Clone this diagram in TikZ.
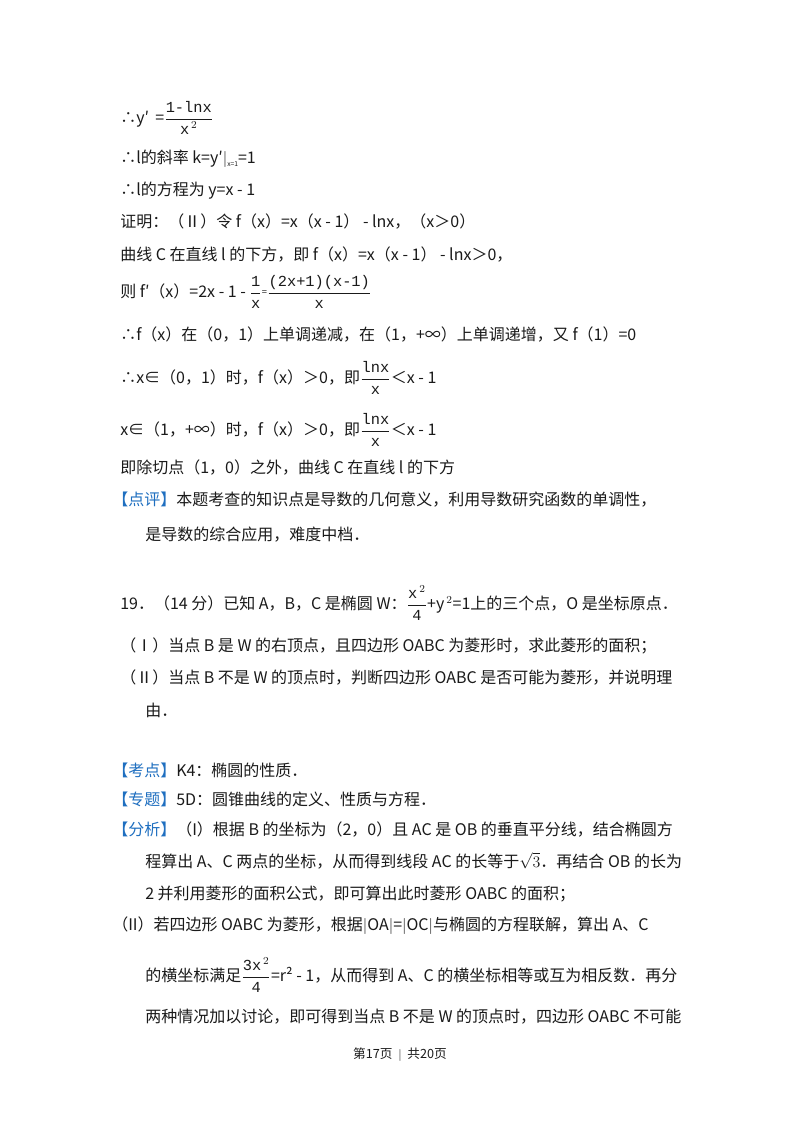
\documentclass[tikz,border=0pt]{standalone}
\usepackage{amsmath}
\usepackage{fontspec}
\setmainfont{Noto Sans CJK SC}
\newfontfamily\monof{Liberation Mono}
\definecolor{txt}{HTML}{1A1A1A}
\definecolor{tag}{HTML}{1F6FC0}
\newcommand{\fr}[2]{$\dfrac{\mbox{\fontsize{11.5}{13}\monof #1}}{\mbox{\fontsize{11.5}{13}\monof #2}}$}
\newcommand{\tg}[1]{\textcolor{tag}{【#1】}}
\begin{document}
\begin{tikzpicture}[x=0.75pt,y=-0.75pt,
  ln/.style={anchor=west,inner sep=0pt,text=txt,font=\fontsize{12}{14}\selectfont}]
\useasboundingbox[fill=white] (0,0) rectangle (800,1132);
\node[ln] (l1) at (120,118) {∴y′ \,=\fr{1-lnx}{x$^{\,2}$}};
\node[ln] (l2) at (120,159) {∴l的斜率 k=y′$|$\raisebox{-0.3ex}{\tiny x=1}=1};
\node[ln] (l3) at (120,191) {∴l的方程为 y=x - 1};
\node[ln] (l4) at (120,222) {证明：（Ⅱ）令 f（x）=x（x - 1） - lnx，（x＞0）};
\node[ln] (l5) at (120,255) {曲线 C 在直线 l 的下方，即 f（x）=x（x - 1） - lnx＞0，};
\node[ln] (l6) at (120,292) {则 f′（x）=2x - 1 - \fr{1}{x}\raisebox{0.2ex}{\scriptsize =}\fr{(2x+1)(x-1)}{x}};
\node[ln] (l7) at (120,335) {∴f（x）在（0，1）上单调递减，在（1，+∞）上单调递增，又 f（1）=0};
\node[ln] (l8) at (120,378) {∴x∈（0，1）时，f（x）＞0，即\fr{lnx}{x}＜x - 1};
\node[ln] (l9) at (120,430) {x∈（1，+∞）时，f（x）＞0，即\fr{lnx}{x}＜x - 1};
\node[ln] (l10) at (120,468) {即除切点（1，0）之外，曲线 C 在直线 l 的下方};
\node[ln] (l11) at (112,500) {\tg{点评}本题考查的知识点是导数的几何意义，利用导数研究函数的单调性，};
\node[ln] (l12) at (145,535) {是导数的综合应用，难度中档．};
\node[ln] (l13) at (120,603) {19．（14 分）已知 A，B，C 是椭圆 W：\fr{x$^{\,2}$}{4}+y$^{\,2}$=1上的三个点，O 是坐标原点．};
\node[ln] (l14) at (120,646) {（Ⅰ）当点 B 是 W 的右顶点，且四边形 OABC 为菱形时，求此菱形的面积；};
\node[ln] (l15) at (120,677) {（Ⅱ）当点 B 不是 W 的顶点时，判断四边形 OABC 是否可能为菱形，并说明理};
\node[ln] (l16) at (145,710) {由．};
\node[ln] (l17) at (112,770) {\tg{考点}K4：椭圆的性质．};
\node[ln] (l18) at (112,799) {\tg{专题}5D：圆锥曲线的定义、性质与方程．};
\node[ln] (l19) at (112,829) {\tg{分析}（I）根据 B 的坐标为（2，0）且 AC 是 OB 的垂直平分线，结合椭圆方};
\node[ln] (l20) at (145,861) {程算出 A、C 两点的坐标，从而得到线段 AC 的长等于$\sqrt{3}$．再结合 OB 的长为};
\node[ln] (l21) at (145,894) {2 并利用菱形的面积公式，即可算出此时菱形 OABC 的面积；};
\node[ln] (l22) at (112,926) {（II）若四边形 OABC 为菱形，根据$|$OA$|$=$|$OC$|$与椭圆的方程联解，算出 A、C};
\node[ln] (l23) at (145,975) {的横坐标满足\fr{3x$^{\,2}$}{4}=r² - 1，从而得到 A、C 的横坐标相等或互为相反数．再分};
\node[ln] (l24) at (145,1017) {两种情况加以讨论，即可得到当点 B 不是 W 的顶点时，四边形 OABC 不可能};
\node[ln,anchor=center,font=\fontsize{9.5}{11}\selectfont] (ft) at (400,1055) {第17页 \ $|$ \ 共20页};
\end{tikzpicture}
\end{document}
